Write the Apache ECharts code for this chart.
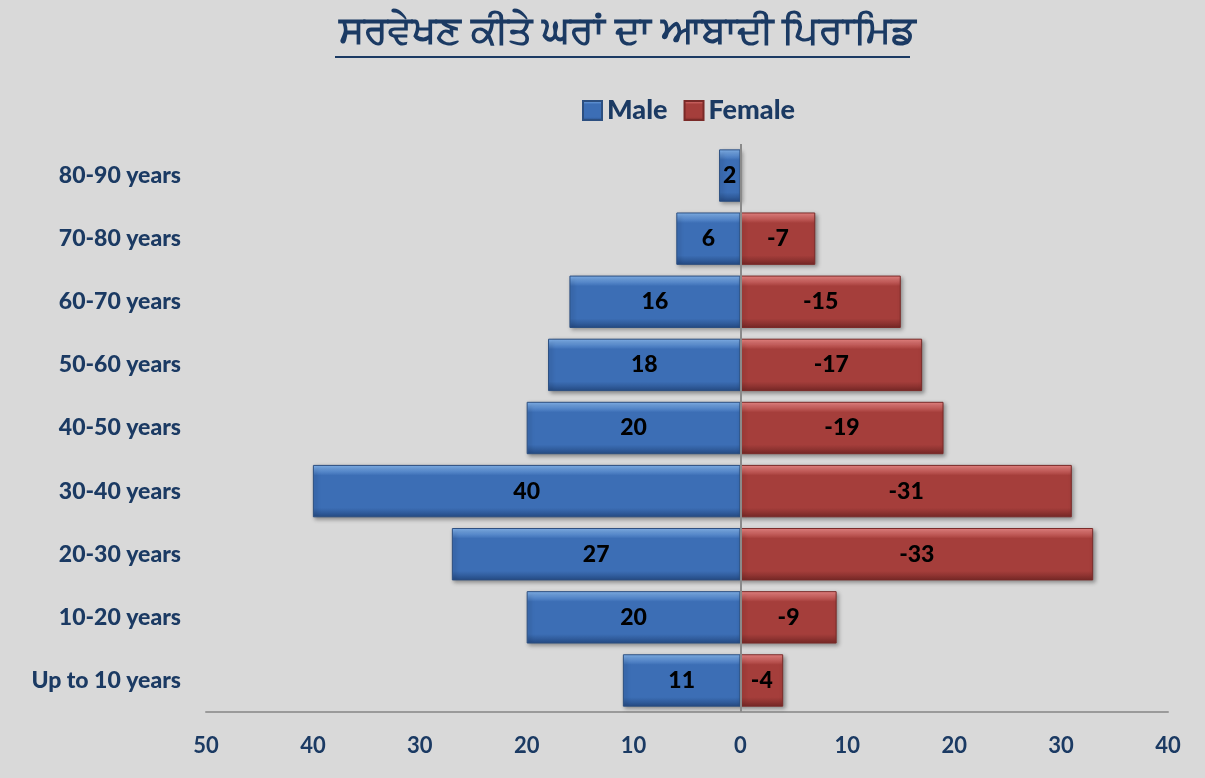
<!DOCTYPE html>
<html>
<head>
<meta charset="utf-8">
<script src="https://cdn.jsdelivr.net/npm/echarts@6/dist/echarts.min.js"></script>
<style>
  html, body { margin: 0; padding: 0; background: #d9d9d9; }
  #container { width: 1205px; height: 778px; }
</style>
</head>
<body>
<div id="container"></div>
<script>
/* age groups, bottom to top */
const ageGroups = ['Up to 10 years', '10-20 years', '20-30 years', '30-40 years', '40-50 years',
                   '50-60 years', '60-70 years', '70-80 years', '80-90 years'];
const maleCounts = [11, 20, 27, 40, 20, 18, 16, 6, 2];
const femaleCounts = [4, 9, 33, 31, 19, 17, 15, 7, null];
const axisTicks = [-50, -40, -30, -20, -10, 0, 10, 20, 30, 40];

const navy = '#1b3a63';

function bevel(light, mid, dark) {
    return new echarts.graphic.LinearGradient(0, 0, 0, 1, [
        {offset: 0, color: light},
        {offset: 0.2, color: mid},
        {offset: 0.82, color: mid},
        {offset: 1, color: dark}
    ]);
}

function pyramid() {
    const dom = document.getElementById('container');
    const myChart = echarts.init(dom);
    const option = {
        backgroundColor: '#d9d9d9',
        title: {
            text: 'ਸਰਵੇਖਣ ਕੀਤੇ ਘਰਾਂ ਦਾ ਆਬਾਦੀ ਪਿਰਾਮਿਡ',
            left: 334,
            top: 8,
            textStyle: {
                fontSize: 38,
                fontWeight: 'bold',
                color: navy,
                fontFamily: 'Noto Sans, DejaVu Sans, sans-serif'
            }
        },
        graphic: [{
            type: 'line',
            shape: {x1: 335, y1: 57, x2: 910, y2: 57},
            style: {stroke: navy, lineWidth: 2}
        }],
        legend: {
            top: 92,
            left: 577,
            itemWidth: 19,
            itemHeight: 19,
            itemGap: 16,
            icon: 'rect',
            textStyle: {fontSize: 27, fontWeight: 900, color: navy, fontFamily: 'Lato, sans-serif'},
            data: ['Male', 'Female']
        },
        grid: {left: 206, right: 37, top: 144, bottom: 66},
        xAxis: {
            type: 'value',
            min: -50,
            max: 40,
            interval: 10,
            splitLine: {show: false},
            axisTick: {show: false},
            axisLine: {show: true, lineStyle: {color: '#9a9a9a', width: 2}},
            axisLabel: {
                margin: 23,
                fontSize: 22,
                fontWeight: 'bold',
                color: navy,
                fontFamily: 'Liberation Sans Narrow, Lato, sans-serif',
                formatter: v => axisTicks.indexOf(v) >= 0 ? String(Math.abs(v)) : ''
            }
        },
        yAxis: {
            type: 'category',
            data: ageGroups,
            axisLine: {show: false},
            axisTick: {show: false},
            axisLabel: {
                margin: 25,
                fontSize: 23,
                fontWeight: 900,
                color: navy,
                fontFamily: 'Lato, sans-serif'
            }
        },
        series: [
            {
                name: 'Male',
                type: 'bar',
                barCategoryGap: '17%',
                barGap: '-100%',
                data: maleCounts.map(v => -v),
                itemStyle: {
                    color: bevel('#86b8f2', '#3c6eb5', '#254b84'),
                    borderColor: '#2c4f80',
                    borderWidth: 1,
                    shadowColor: 'rgba(0,0,0,0.35)',
                    shadowBlur: 4,
                    shadowOffsetX: 2,
                    shadowOffsetY: 2
                },
                label: {
                    show: true,
                    position: 'inside',
                    fontSize: 23,
                    fontWeight: 900,
                    color: '#000',
                    fontFamily: 'Lato, sans-serif',
                    formatter: p => String(Math.abs(p.value))
                },
                markLine: {
                    silent: true,
                    symbol: 'none',
                    label: {show: false},
                    lineStyle: {color: '#8a8a8a', type: 'solid', width: 2},
                    data: [{xAxis: 0}]
                }
            },
            {
                name: 'Female',
                type: 'bar',
                barCategoryGap: '17%',
                barGap: '-100%',
                data: femaleCounts,
                itemStyle: {
                    color: bevel('#f08a88', '#a53e3b', '#762826'),
                    borderColor: '#7a2a28',
                    borderWidth: 1,
                    shadowColor: 'rgba(0,0,0,0.35)',
                    shadowBlur: 4,
                    shadowOffsetX: 2,
                    shadowOffsetY: 2
                },
                label: {
                    show: true,
                    position: 'inside',
                    fontSize: 23,
                    fontWeight: 900,
                    color: '#000',
                    fontFamily: 'Lato, sans-serif',
                    formatter: p => '-' + p.value
                }
            }
        ]
    };
    myChart.setOption(option, true);
}

pyramid();
</script>
</body>
</html>
